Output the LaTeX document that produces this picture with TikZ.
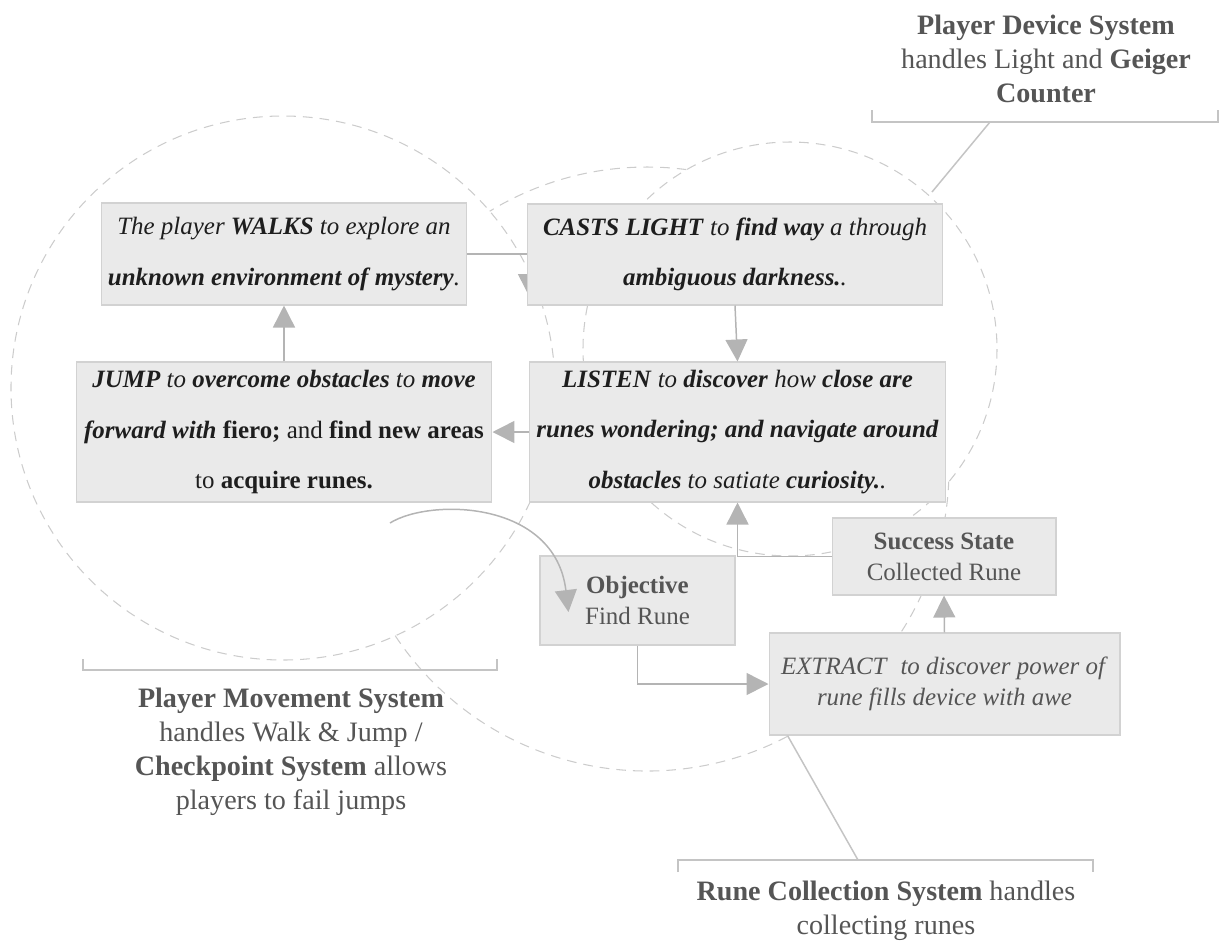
\documentclass[tikz,border=0pt]{standalone}
\usepackage{fontspec}
\setmainfont{Liberation Serif}
\usetikzlibrary{arrows.meta,calc}

\definecolor{boxfill}{HTML}{EAEAEA}
\definecolor{boxline}{HTML}{D2D2D2}
\definecolor{boxtext}{HTML}{1E1E1E}
\definecolor{notegray}{HTML}{555555}
\definecolor{arrowgray}{HTML}{B4B4B4}
\definecolor{ringgray}{HTML}{CCCCCC}
\definecolor{bracketgray}{HTML}{C4C4C4}

\newcommand{\boldit}[1]{\textbf{\textit{#1}}}

\tikzset{
	box/.style={draw=boxline, line width=0.6pt, fill=boxfill, inner sep=0pt, align=center, text=boxtext, font=\fontsize{14.2}{28.5}\selectfont},
	statebox/.style={box, text=notegray, font=\fontsize{14.2}{17.6}\selectfont},
	conn/.style={draw=arrowgray, line width=0.85pt, -{Triangle[length=0.44cm,width=0.44cm]}},
	ring/.style={draw=ringgray, line width=0.6pt, dash pattern=on 5.5pt off 4pt},
	bracket/.style={draw=bracketgray, line width=0.85pt},
	note/.style={align=center, text=notegray, font=\fontsize{16}{19.4}\selectfont}
}

\begin{document}
\begin{tikzpicture}[x=0.02cm, y=-0.02cm]
	\useasboundingbox (0,0) rectangle (1221,941);

	% the three systems (middle one only outside the other two)
	\draw [ring] (283,388) circle [radius=272];
	\draw [ring] (790,349) circle [radius=207];
	\draw [ring] ([shift={(-82.5:302)}]647,469) arc [start angle=-82.5, end angle=-121.4, radius=302];
	\draw [ring] ([shift={(146.5:302)}]647,469) arc [start angle=146.5, end angle=2.4, radius=302];

	% core loop
	\node [box, minimum width=7.32cm, minimum height=2.04cm] (walk) at (284,254)
		{\textit{The player \textbf{WALKS} to explore an}\\ \boldit{unknown environment of mystery}\textit{.}};
	\coordinate (castin) at (529,296);
	\draw [conn] (walk.east) -| (castin);
	\node [box, minimum width=8.32cm, minimum height=2.02cm] (cast) at (735,254.5)
		{\boldit{CASTS LIGHT} \textit{to} \boldit{find way} \textit{a through}\\ \boldit{ambiguous darkness.}\textit{.}};
	\node [box, minimum width=8.34cm, minimum height=2.8cm] (listen) at (737.5,432)
		{\boldit{LISTEN} \textit{to} \boldit{discover} \textit{how} \boldit{close are}\\ \boldit{runes wondering; and navigate around}\\ \boldit{obstacles} \textit{to satiate} \boldit{curiosity.}\textit{.}};
	\node [box, minimum width=8.32cm, minimum height=2.8cm] (jump) at (284,432)
		{\boldit{JUMP} \textit{to} \boldit{overcome obstacles} \textit{to} \boldit{move}\\ \boldit{forward with} \textbf{fiero;} and \textbf{find new areas}\\ to \textbf{acquire runes.}};

	\node [statebox, minimum width=3.9cm, minimum height=1.78cm] (objective) at (637.5,600.5)
		{\textbf{Objective}\\ Find Rune};
	\node [statebox, minimum width=4.48cm, minimum height=1.54cm] (success) at (944,556.5)
		{\textbf{Success State}\\ Collected Rune};
	\node [statebox, minimum width=7.02cm, minimum height=2.04cm] (extract) at (944.5,684)
		{\textit{EXTRACT}\ \ \textit{to discover power of}\\ \textit{rune fills device with awe}};

	\draw [conn] (cast.south) -- (listen.north);
	\draw [conn] (listen.west) -- (jump.east);
	\draw [conn] (jump.north) -- (walk.south);
	\draw [conn] (success.west) -| (listen.south);
	\draw [conn] (objective.south) |- (extract.west);
	\draw [conn] (extract.north) -- (success.south);
	\coordinate (loopout) at (390,523);
	\draw [conn] (loopout) .. controls (430,498) and (555,500) .. ([shift={(29,11.5)}]objective.west);

	% system notes
	\draw [bracket] (872,110) |- (1218,122) -- (1218,110);
	\coordinate (devtick) at (990,122);
	\draw [bracket] (devtick) -- (932,192);
	\node [note] (devnote) at (1046,59) {\textbf{Player Device System}\\ handles Light and \textbf{Geiger}\\ \textbf{Counter}};

	\draw [bracket] (83,659) |- (497,670) -- (497,659);
	\node [note] (movenote) at (291,752) {\textbf{Player Movement System}\\ handles Walk \& Jump /\\ \textbf{Checkpoint System} allows\\ players to fail jumps};

	\draw [bracket] (678,872) |- (1093,860) -- (1093,872);
	\coordinate (runetick) at (858,860);
	\draw [bracket] (runetick) -- ([xshift=0.38cm]extract.south west);
	\node [note] (runenote) at (886,911) {\textbf{Rune Collection System} handles\\ collecting runes};
\end{tikzpicture}
\end{document}
